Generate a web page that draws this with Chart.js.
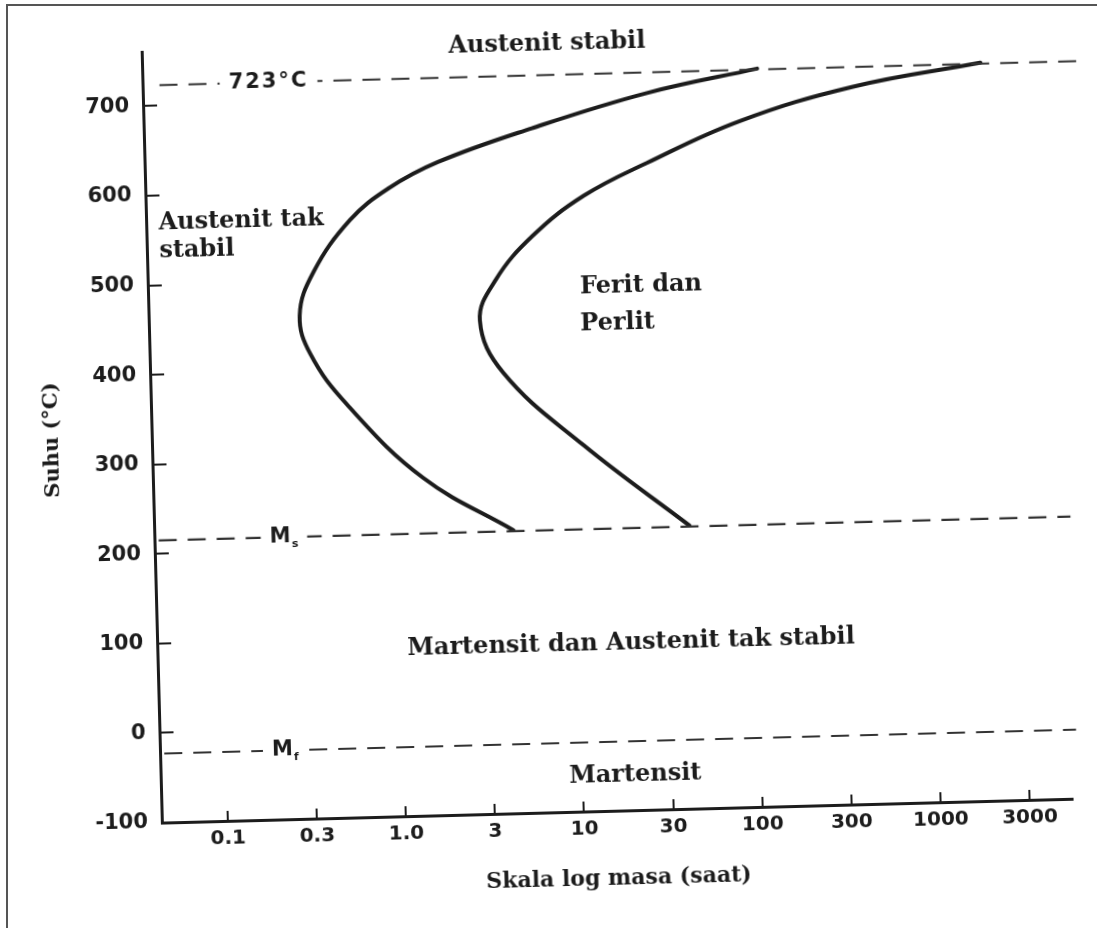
<!DOCTYPE html>
<html>
<head>
<meta charset="utf-8">
<script src="https://cdn.jsdelivr.net/npm/chart.js@4.4.1/dist/chart.umd.min.js"></script>
<style>
  html, body { margin: 0; padding: 0; background: #fff; }
  body { width: 1097px; height: 928px; overflow: hidden; position: relative; }
  .frame { position: absolute; left: 6px; top: 4px; right: -10px; bottom: -10px;
           border-left: 2px solid #555; border-top: 2px solid #555; }
  .wrap { position: absolute; left: 0; top: 0; width: 1097px; height: 928px;
          transform: rotate(-1.5deg); transform-origin: 600px 440px; }
</style>
</head>
<body>
<div class="frame"></div>
<div class="wrap"><canvas id="ttt"></canvas></div>
<script>
// axis ticks (log time axis, half-decade steps)
const xTickValues = [0.1, 0.316, 1, 3.16, 10, 31.6, 100, 316, 1000, 3162];
const xTickLabels = ['0.1', '0.3', '1.0', '3', '10', '30', '100', '300', '1000', '3000'];
const yTickValues = [-100, 0, 100, 200, 300, 400, 500, 600, 700];

// transformation start curve (time in s, temperature in °C)
const startTime = [120, 28.7, 6.41, 1.88, 0.984, 0.594, 0.364, 0.300, 0.341, 0.537, 1.40, 4.41];
const startTemp = [724, 700, 664, 629, 601, 567, 510, 462, 418, 361, 277, 216];

// transformation finish curve
const finishTime = [2150, 411, 94.2, 28.0, 12.2, 6.25, 3.82, 3.07, 4.08, 11.2, 42.9];
const finishTemp = [724, 701, 666, 622, 587, 544, 496, 451, 392, 309, 216];

// horizontal reference temperatures
const tempA1 = 723;
const tempMs = 215;
const tempMf = -23;

const regionNotes = [
  { text: 'Austenit stabil', x: 8.0, y: 758, align: 'center' },
  { text: 'Austenit tak', x: 0.05, y: 569, align: 'left' },
  { text: 'stabil', x: 0.05, y: 538, align: 'left' },
  { text: 'Ferit dan', x: 11.3, y: 485, align: 'left' },
  { text: 'Perlit', x: 11.2, y: 444, align: 'left' },
  { text: 'Martensit dan Austenit tak stabil', x: 19.4, y: 87, align: 'center' },
  { text: 'Martensit', x: 19.6, y: -61, align: 'center' }
];

const lineNotes = [
  { main: '723°C', sub: '', x: 0.217, y: tempA1 },
  { main: 'M', sub: 's', x: 0.227, y: tempMs },
  { main: 'M', sub: 'f', x: 0.215, y: tempMf }
];

const ink = '#1c1c1c';

function curve(times, temps) {
  return {
    data: times.map((t, i) => ({ x: t, y: temps[i] })),
    showLine: true,
    borderColor: ink,
    borderWidth: 4,
    tension: 0.4,
    pointRadius: 0,
    borderCapStyle: 'round',
    borderJoinStyle: 'round'
  };
}

function dashed(temp, x0, x1) {
  return {
    data: [{ x: x0, y: temp }, { x: x1, y: temp }],
    showLine: true,
    borderColor: '#333',
    borderWidth: 2.2,
    borderDash: [18, 11],
    pointRadius: 0,
    clip: false
  };
}

const notesPlugin = {
  id: 'notes',
  afterDraw(chart) {
    const { ctx } = chart;
    const xs = chart.scales.x, ys = chart.scales.y;
    ctx.save();
    ctx.fillStyle = ink;
    ctx.textBaseline = 'middle';
    ctx.font = 'bold 24px "DejaVu Serif"';
    regionNotes.forEach(n => {
      ctx.textAlign = n.align;
      ctx.fillText(n.text, xs.getPixelForValue(n.x), ys.getPixelForValue(n.y));
    });

    lineNotes.forEach(n => {
      const px = xs.getPixelForValue(n.x);
      const py = ys.getPixelForValue(n.y);
      ctx.font = 'bold 21px "DejaVu Sans"';
      ctx.letterSpacing = n.sub ? '0px' : '2px';
      const w1 = ctx.measureText(n.main).width;
      ctx.font = 'bold 11px "DejaVu Sans"';
      const w2 = n.sub ? ctx.measureText(n.sub).width + 1 : 0;
      const w = w1 + w2;
      ctx.fillStyle = '#fff';
      ctx.fillRect(px - w / 2 - 9, py - 12, w + 18, 24);
      ctx.fillStyle = ink;
      ctx.textAlign = 'left';
      ctx.font = 'bold 21px "DejaVu Sans"';
      ctx.fillText(n.main, px - w / 2, py);
      if (n.sub) {
        ctx.font = 'bold 11px "DejaVu Sans"';
        ctx.fillText(n.sub, px - w / 2 + w1 + 1, py + 7);
      }
    });
    ctx.restore();
  }
};

new Chart(document.getElementById('ttt').getContext('2d'), {
  type: 'scatter',
  data: {
    datasets: [
      dashed(tempA1, 0.053, 8300),
      dashed(tempMs, 0.045, 5900),
      dashed(tempMf, 0.045, 5900),
      curve(startTime, startTemp),
      curve(finishTime, finishTemp)
    ]
  },
  options: {
    responsive: true,
    maintainAspectRatio: false,
    animation: false,
    layout: { padding: { left: 0, top: 38, right: 34, bottom: 0 } },
    plugins: { legend: { display: false }, tooltip: { enabled: false } },
    scales: {
      x: {
        type: 'logarithmic',
        min: 0.0426,
        max: 5510,
        afterBuildTicks: s => { s.ticks = xTickValues.map(v => ({ value: v })); },
        afterFit: s => { s.height = 117; },
        ticks: {
          callback: (v, i) => xTickLabels[i],
          font: { family: 'DejaVu Sans', weight: 'bold', size: 20 },
          color: ink,
          padding: 16,
          autoSkip: false,
          maxRotation: 0
        },
        grid: { drawOnChartArea: false, tickLength: -10, color: ink, lineWidth: 2 },
        border: { color: ink, width: 3 },
        title: {
          display: true,
          text: 'Skala log masa (saat)',
          font: { family: 'DejaVu Serif', weight: 'bold', size: 22 },
          color: ink,
          padding: { top: 0, bottom: 36 }
        }
      },
      y: {
        min: -100,
        max: 760,
        afterBuildTicks: s => { s.ticks = yTickValues.map(v => ({ value: v })); },
        afterFit: s => { s.width = 152; },
        ticks: {
          font: { family: 'DejaVu Sans', weight: 'bold', size: 21 },
          color: ink,
          padding: 28
        },
        grid: { drawOnChartArea: false, tickLength: -14, color: ink, lineWidth: 2 },
        border: { color: ink, width: 3 },
        title: {
          display: true,
          text: 'Suhu (°C)',
          font: { family: 'DejaVu Serif', weight: 'bold', size: 21 },
          color: ink,
          padding: { top: 40, bottom: 0 }
        }
      }
    }
  },
  plugins: [notesPlugin]
});
</script>
</body>
</html>
